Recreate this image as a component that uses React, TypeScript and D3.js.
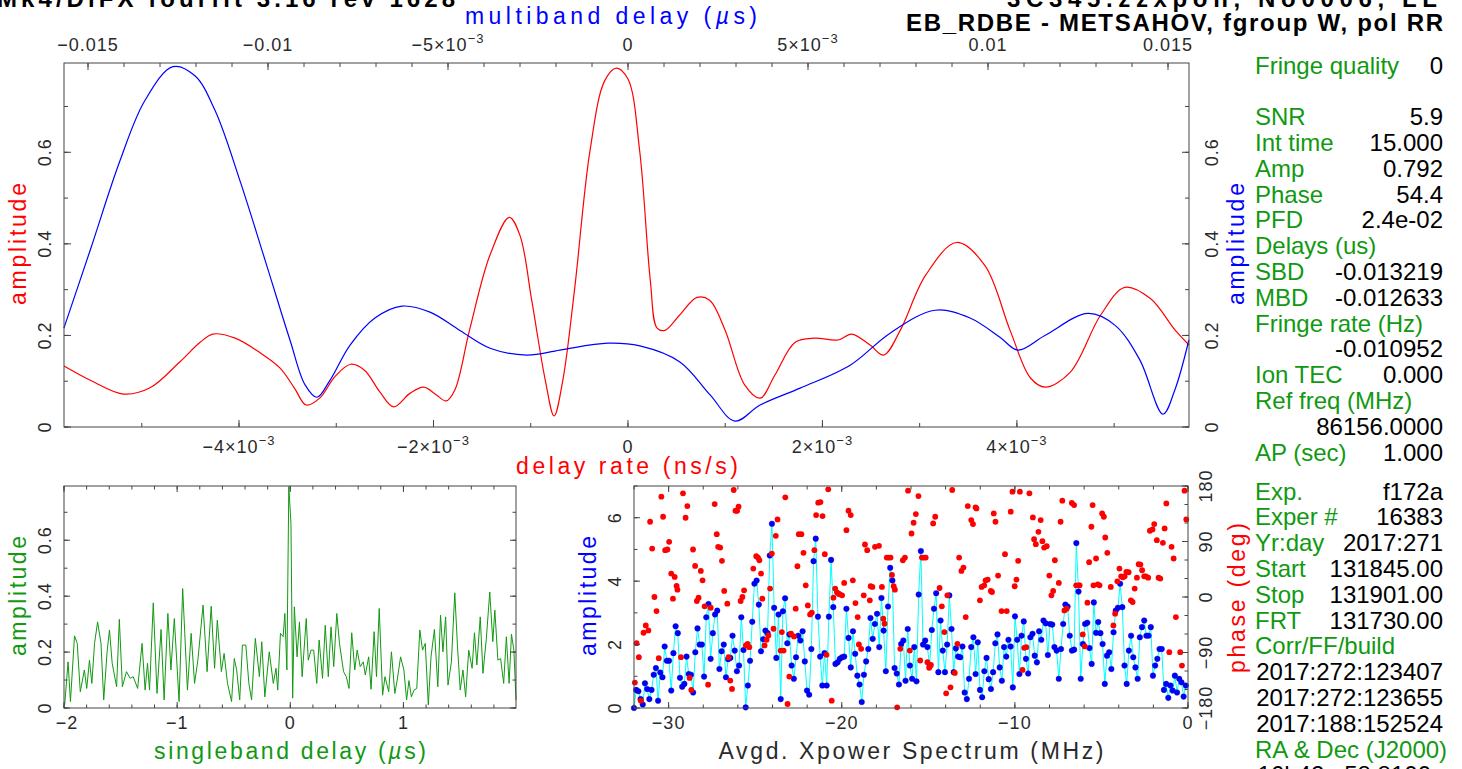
import React from 'react';
import * as d3 from 'd3';

const W = 1462;
const H = 769;

const RED = '#ff0000';
const BLUE = '#0000ff';
const GREEN = '#119911';
const CYAN = '#00ffff';
const AXIS = '#444444';
const LABEL = '#2a2a2a';

// ---- Main panel: delay rate (ns/s) vs amplitude (red) ----
const rateX = [
  -5.80e-3, -5.53e-3, -5.19e-3, -4.92e-3, -4.61e-3, -4.40e-3, -4.27e-3, -4.04e-3, -3.79e-3, -3.58e-3,
  -3.43e-3, -3.31e-3, -3.17e-3, -3.01e-3, -2.85e-3, -2.71e-3, -2.55e-3, -2.41e-3, -2.24e-3, -2.10e-3,
  -1.97e-3, -1.87e-3, -1.78e-3, -1.63e-3, -1.42e-3, -1.22e-3, -1.11e-3, -0.99e-3, -0.85e-3, -0.76e-3,
  -0.67e-3, -0.55e-3, -0.39e-3, -0.24e-3, -0.12e-3, 0.0, 0.12e-3, 0.23e-3, 0.30e-3, 0.38e-3,
  0.53e-3, 0.71e-3, 0.84e-3, 1.00e-3, 1.20e-3, 1.36e-3, 1.51e-3, 1.72e-3, 1.92e-3, 2.16e-3,
  2.30e-3, 2.49e-3, 2.63e-3, 2.80e-3, 3.06e-3, 3.38e-3, 3.67e-3, 3.93e-3, 4.14e-3, 4.29e-3,
  4.55e-3, 4.86e-3, 5.11e-3, 5.37e-3, 5.63e-3, 5.77e-3,
];
const rateAmp = [
  0.133, 0.102, 0.072, 0.085, 0.142, 0.185, 0.203, 0.194, 0.163, 0.129,
  0.085, 0.048, 0.063, 0.111, 0.137, 0.124, 0.076, 0.044, 0.074, 0.087,
  0.070, 0.057, 0.081, 0.211, 0.375, 0.458, 0.418, 0.277, 0.102, 0.024,
  0.102, 0.299, 0.604, 0.756, 0.784, 0.760, 0.604, 0.320, 0.216, 0.211,
  0.244, 0.283, 0.277, 0.211, 0.092, 0.063, 0.113, 0.185, 0.194, 0.190,
  0.203, 0.179, 0.157, 0.211, 0.331, 0.403, 0.353, 0.211, 0.107, 0.087,
  0.120, 0.244, 0.305, 0.281, 0.211, 0.179,
];

// ---- Main panel: multiband delay (us) vs amplitude (blue) ----
const mbdX = [
  -0.01567, -0.01494, -0.01411, -0.01342, -0.01264, -0.01203, -0.01147, -0.01078, -0.01008, -0.00939,
  -0.00897, -0.00864, -0.00828, -0.00772, -0.00703, -0.00628, -0.00550, -0.00467, -0.00383, -0.00281,
  -0.00189, -0.00056, 0.00033, 0.00144, 0.00228, 0.00297, 0.00367, 0.00478, 0.00617, 0.00728,
  0.00853, 0.00950, 0.01033, 0.01083, 0.01158, 0.01278, 0.01353, 0.01422, 0.01486, 0.01519, 0.01558,
];
const mbdAmp = [
  0.216, 0.386, 0.582, 0.713, 0.787, 0.767, 0.691, 0.538, 0.364, 0.190,
  0.092, 0.065, 0.102, 0.179, 0.238, 0.264, 0.251, 0.211, 0.172, 0.157,
  0.168, 0.183, 0.177, 0.142, 0.070, 0.013, 0.048, 0.085, 0.135, 0.205,
  0.255, 0.238, 0.196, 0.168, 0.200, 0.248, 0.222, 0.146, 0.028, 0.081, 0.190,
];

// ---- Singleband delay (us) vs amplitude (green) ----
const sbdPoints: [number, number][] = [
  [-1.994, 0.011], [-1.964, 0.165], [-1.943, 0.023], [-1.907, 0.258], [-1.883, 0.231], [-1.856, 0.058],
  [-1.820, 0.136], [-1.799, 0.070], [-1.775, 0.171], [-1.754, 0.088], [-1.730, 0.231], [-1.703, 0.308],
  [-1.673, 0.231], [-1.649, 0.029], [-1.619, 0.201], [-1.598, 0.279], [-1.574, 0.160], [-1.535, 0.076],
  [-1.511, 0.317], [-1.484, 0.076], [-1.448, 0.130], [-1.415, 0.106], [-1.388, 0.112], [-1.349, 0.070],
  [-1.310, 0.231], [-1.283, 0.064], [-1.262, 0.160], [-1.244, 0.064], [-1.211, 0.376], [-1.178, 0.052],
  [-1.142, 0.281], [-1.115, 0.029], [-1.082, 0.338], [-1.055, 0.136], [-1.025, 0.320], [-0.983, 0.023],
  [-0.951, 0.427], [-0.909, 0.064], [-0.876, 0.267], [-0.846, 0.088], [-0.816, 0.174], [-0.771, 0.368],
  [-0.735, 0.130], [-0.699, 0.364], [-0.669, 0.142], [-0.645, 0.314], [-0.609, 0.130], [-0.585, 0.195],
  [-0.555, 0.088], [-0.519, 0.023], [-0.495, 0.177], [-0.474, 0.136], [-0.447, 0.029], [-0.423, 0.225],
  [-0.393, 0.225], [-0.366, 0.088], [-0.342, 0.029], [-0.309, 0.249], [-0.273, 0.112], [-0.252, 0.237],
  [-0.225, 0.040], [-0.186, 0.201], [-0.150, 0.088], [-0.126, 0.142], [-0.111, 0.064], [-0.087, 0.267],
  [-0.063, 0.255], [-0.048, 0.338], [-0.030, 0.136], [-0.013, 0.792], [0.006, 0.660], [0.021, 0.035],
  [0.036, 0.362], [0.060, 0.183], [0.081, 0.308], [0.105, 0.112], [0.141, 0.320], [0.159, 0.171],
  [0.183, 0.207], [0.207, 0.207], [0.234, 0.088], [0.255, 0.243], [0.285, 0.106], [0.309, 0.296],
  [0.336, 0.112], [0.360, 0.290], [0.384, 0.148], [0.411, 0.338], [0.435, 0.231], [0.471, 0.130],
  [0.495, 0.112], [0.519, 0.070], [0.543, 0.269], [0.570, 0.136], [0.591, 0.207], [0.618, 0.148],
  [0.645, 0.165], [0.663, 0.118], [0.693, 0.183], [0.714, 0.067], [0.741, 0.273], [0.762, 0.112],
  [0.786, 0.356], [0.816, 0.046], [0.837, 0.112], [0.870, 0.058], [0.894, 0.201], [0.924, 0.052],
  [0.945, 0.100], [0.975, 0.183], [1.004, 0.136], [1.028, 0.029], [1.049, 0.098], [1.070, 0.040],
  [1.094, 0.064], [1.118, 0.070], [1.145, 0.279], [1.169, 0.207], [1.193, 0.231], [1.220, 0.011],
  [1.244, 0.183], [1.274, 0.281], [1.304, 0.076], [1.328, 0.332], [1.349, 0.201], [1.373, 0.326],
  [1.394, 0.082], [1.424, 0.165], [1.454, 0.412], [1.478, 0.219], [1.502, 0.064], [1.526, 0.136],
  [1.550, 0.040], [1.577, 0.207], [1.607, 0.142], [1.628, 0.269], [1.649, 0.154], [1.679, 0.326],
  [1.703, 0.124], [1.733, 0.249], [1.763, 0.415], [1.790, 0.237], [1.808, 0.350], [1.835, 0.171],
  [1.859, 0.177], [1.886, 0.088], [1.910, 0.255], [1.934, 0.088], [1.955, 0.264], [1.976, 0.207],
  [1.995, 0.029],
];

// ---- Averaged cross-power spectrum: amplitude per channel (-32..0 MHz) ----
const specAmp = [
  0.00, 0.57, 0.53, 0.28, 0.11, 0.78, 0.60, 0.28, 0.57, 1.05, 1.26, 0.23, 1.12, 0.97, 1.94, 1.49,
  1.49, 0.55, 1.73, 2.58, 2.36, 0.95, 0.67, 0.76, 1.62, 1.07, 1.05, 0.49, 1.76, 2.51, 2.00, 2.00,
  0.99, 2.86, 3.28, 1.55, 2.36, 2.95, 3.07, 1.23, 1.79, 2.00, 0.97, 1.54, 1.58, 2.28, 1.81, 1.16,
  1.34, 2.86, 1.83, 0.02, 0.71, 1.49, 2.72, 3.92, 4.02, 3.26, 1.79, 2.17, 2.44, 2.36, 4.81, 5.81,
  3.16, 1.58, 2.95, 0.28, 3.05, 3.46, 2.04, 2.32, 1.34, 0.92, 1.60, 2.28, 2.13, 2.42, 1.47, 0.55,
  0.42, 1.86, 4.63, 5.34, 2.88, 1.62, 0.71, 1.73, 0.71, 2.88, 4.67, 3.18, 1.39, 1.44, 1.55, 1.60,
  1.62, 3.13, 2.21, 1.28, 2.42, 1.71, 1.02, 0.74, 0.19, 1.05, 1.47, 1.86, 2.84, 2.18, 2.65, 2.97,
  1.92, 3.47, 2.44, 1.16, 3.20, 4.42, 4.02, 1.26, 1.09, 0.74, 2.02, 2.13, 0.86, 2.49, 1.34, 0.92,
  1.92, 0.84, 3.58, 4.95, 2.00, 2.13, 1.92, 1.31, 2.46, 3.13, 3.62, 1.13, 2.76, 1.81, 1.13, 2.00,
  3.55, 2.49, 1.13, 1.88, 1.62, 1.60, 1.94, 0.49, 0.28, 0.92, 1.92, 2.23, 1.07, 2.07, 0.57, 0.34,
  1.16, 1.58, 0.91, 0.60, 1.13, 2.04, 2.32, 1.28, 0.86, 1.92, 1.62, 2.15, 1.94, 0.65, 2.89, 2.15,
  1.07, 2.28, 2.73, 1.55, 1.09, 2.23, 2.34, 1.65, 1.44, 2.42, 2.15, 2.76, 2.67, 1.67, 2.65, 2.63,
  1.92, 1.81, 0.92, 1.86, 2.65, 3.26, 3.20, 2.28, 1.81, 1.84, 5.20, 3.67, 0.92, 2.02, 2.65, 2.69,
  1.89, 1.39, 3.33, 2.37, 2.71, 2.36, 2.02, 0.76, 1.65, 1.76, 1.23, 2.39, 3.07, 3.16, 3.92, 3.18,
  1.34, 0.76, 1.81, 2.28, 1.60, 1.28, 0.92, 2.23, 2.55, 2.76, 2.28, 2.28, 2.55, 1.02, 1.34, 1.55,
  1.86, 1.86, 0.57, 0.76, 0.32, 0.71, 0.55, 1.02, 0.49, 0.92, 0.81, 0.36, 0.71,
];

// ---- Averaged cross-power spectrum: phase dots [MHz, deg] ----
const phaseDots: [number, number][] = [
  [-31.95, -138.8], [-31.85, -74.8], [-31.72, -97.6], [-31.60, -168.1], [-31.45, -58.0], [-31.32, -46.1],
  [-31.17, -54.2], [-31.07, 122.0], [-30.95, 78.6], [-30.82, 0.0], [-30.70, -22.8], [-30.57, -99.2],
  [-30.42, 162.7], [-30.32, 130.1], [-30.20, 75.9], [-30.07, 77.0], [-29.97, 89.5], [-29.85, 38.0],
  [-29.75, -2.7], [-29.65, 32.5], [-29.54, 17.9], [-29.49, 11.9], [-29.29, -97.6], [-29.17, 168.1],
  [-29.02, 128.5], [-28.92, 147.5], [-28.79, -131.2], [-28.69, -150.7], [-28.59, 77.0], [-28.47, 50.4],
  [-28.37, -6.5], [-28.27, -1.1], [-28.14, 42.3], [-28.04, 27.1], [-27.92, -15.2], [-27.72, -142.1],
  [-27.57, -17.4], [-27.34, 150.7], [-27.22, 101.9], [-27.14, 81.3], [-27.02, 80.2], [-26.92, 58.6],
  [-26.79, 9.8], [-26.61, -10.8], [-26.54, -97.6], [-26.44, -135.6], [-26.34, -149.1], [-26.24, 173.5],
  [-26.14, 139.9], [-26.04, 139.9], [-25.96, 146.4], [-25.84, -6.5], [-25.74, 0.0], [-25.64, 10.8],
  [-25.54, -78.6], [-25.44, -75.9], [-25.34, -81.3], [-25.11, 46.1], [-24.94, 66.1], [-24.84, 64.0],
  [-24.76, 59.6], [-24.66, 38.0], [-24.59, -2.7], [-24.46, -78.6], [-24.34, -69.4], [-24.24, -62.4],
  [-24.14, 13.6], [-24.04, 70.5], [-23.94, -51.5], [-23.81, 99.2], [-23.71, 125.8], [-23.53, -86.8],
  [-23.46, -56.9], [-23.36, -86.8], [-23.26, 161.6], [-23.13, -173.5], [-23.03, -129.0], [-22.93, -59.6],
  [-22.76, -64.0], [-22.66, -19.0], [-22.56, 49.9], [-22.48, 101.9], [-22.33, 101.9], [-22.21, 71.6],
  [-22.08, 19.0], [-21.96, -13.6], [-21.83, -28.2], [-21.73, -25.5], [-21.58, 75.9], [-21.48, 132.8],
  [-21.36, 152.9], [-21.23, 154.0], [-21.11, 131.2], [-20.98, 69.4], [-20.88, -93.8], [-20.78, 174.6],
  [-20.58, -168.1], [-20.48, -1.1], [-20.38, 13.6], [-20.28, 7.6], [-20.18, 5.4], [-20.11, 4.3],
  [-19.98, 2.7], [-19.86, 22.8], [-19.73, 108.4], [-19.61, 139.9], [-19.48, 132.8], [-19.36, 27.1],
  [-19.21, -9.8], [-19.08, -32.5], [-19.01, -77.0], [-18.88, -84.0], [-18.73, 2.7], [-18.66, 85.1],
  [-18.53, 75.9], [-18.38, -5.4], [-18.33, 17.4], [-18.23, 16.3], [-18.08, 81.3], [-17.85, 83.0],
  [-17.68, 16.3], [-17.60, -35.2], [-17.53, -43.4], [-17.40, 64.0], [-17.28, 64.0], [-17.18, 64.0],
  [-17.10, 35.8], [-17.00, 17.4], [-16.93, 11.9], [-16.80, -178.9], [-16.62, -84.0], [-16.47, 59.6],
  [-16.35, 64.0], [-16.17, 172.4], [-16.07, -86.8], [-15.97, 103.0], [-15.85, 120.4], [-15.72, 134.5],
  [-15.57, 163.7], [-15.47, -103.0], [-15.37, 64.0], [-15.27, 64.0], [-15.15, 64.0], [-15.05, -105.7],
  [-14.95, -114.9], [-14.85, -110.1], [-14.72, 119.3], [-14.60, 130.1], [-14.35, 14.6], [-14.22, -15.2],
  [-14.07, -56.9], [-13.97, -156.2], [-13.90, 2.7], [-13.72, -146.4], [-13.62, 173.5], [-13.47, -123.1],
  [-13.32, -75.9], [-13.22, 64.0], [-13.09, 42.3], [-12.97, 47.7], [-12.84, -32.5], [-12.72, 147.5],
  [-12.52, 124.7], [-12.42, 118.2], [-12.27, 145.3], [-12.22, 143.7], [-12.02, -5.4], [-11.92, 16.3],
  [-11.77, 19.0], [-11.69, 27.1], [-11.57, 28.2], [-11.39, 9.8], [-11.32, 8.1], [-11.22, 135.6],
  [-11.12, 122.0], [-10.97, 34.7], [-10.77, -22.8], [-10.57, 69.4], [-10.47, -22.8], [-10.24, 138.3],
  [-10.14, 170.8], [-10.01, 17.4], [-9.91, 28.2], [-9.81, 58.6], [-9.71, 170.8], [-9.56, -118.2],
  [-9.46, -82.4], [-9.34, -81.3], [-9.16, 168.1], [-8.96, 129.0], [-8.89, 93.8], [-8.79, 85.7],
  [-8.64, 105.7], [-8.51, 124.7], [-8.41, 90.5], [-8.31, 80.2], [-8.16, 82.4], [-8.01, 34.7],
  [-7.89, 2.7], [-7.79, 9.8], [-7.69, 59.6], [-7.46, 22.8], [-7.36, 122.0], [-7.26, 156.2],
  [-7.14, -21.7], [-7.01, -19.0], [-6.71, 152.4], [-6.58, 149.1], [-6.46, 19.0], [-6.31, 19.0],
  [-6.26, 19.0], [-6.08, -60.7], [-5.96, -80.2], [-5.81, -9.2], [-5.71, 56.4], [-5.58, 113.9],
  [-5.51, 149.1], [-5.46, 19.0], [-5.31, 62.4], [-5.21, 20.6], [-5.11, 19.0], [-4.96, 135.6],
  [-4.86, 130.1], [-4.78, 96.5], [-4.66, 71.6], [-4.46, 16.3], [-4.31, -46.1], [-4.21, -27.1],
  [-4.08, 25.5], [-3.96, 46.1], [-3.86, 33.6], [-3.76, 32.0], [-3.66, 33.6], [-3.56, 40.7],
  [-3.43, 40.1], [-3.30, -5.4], [-3.20, -8.1], [-3.08, 13.6], [-2.95, 31.4], [-2.85, 53.1],
  [-2.75, 52.6], [-2.65, 43.4], [-2.53, 33.6], [-2.43, 33.6], [-2.30, 31.4], [-2.20, 107.4],
  [-2.05, 109.5], [-1.95, 118.2], [-1.80, 92.2], [-1.70, 31.4], [-1.60, 29.8], [-1.45, 87.8],
  [-1.35, 111.2], [-1.25, 151.8], [-1.08, -89.5], [-0.95, 81.3], [-0.83, 62.4], [-0.70, -32.5],
  [-0.45, -89.5], [-0.35, -111.2], [-0.20, 172.4], [-0.10, 125.8],
];

// ---- Tick values ----
const mbdTicks = [-0.015, -0.01, -0.005, 0, 0.005, 0.01, 0.015];
const mbdTickLabels = ['−0.015', '−0.01', '−5|−3', '0', '5|−3', '0.01', '0.015'];
const rateTicks = [-4e-3, -2e-3, 0, 2e-3, 4e-3];
const rateTickLabels = ['−4|−3', '−2|−3', '0', '2|−3', '4|−3'];
const ampTicks = [0, 0.2, 0.4, 0.6];
const ampTickLabels = ['0', '0.2', '0.4', '0.6'];
const sbdTicks = [-2, -1, 0, 1];
const sbdTickLabels = ['−2', '−1', '0', '1'];
const freqTicks = [-30, -20, -10, 0];
const freqTickLabels = ['−30', '−20', '−10', '0'];
const specAmpTicks = [0, 2, 4, 6];
const specAmpTickLabels = ['0', '2', '4', '6'];
const phaseTicks = [-180, -90, 0, 90, 180];
const phaseTickLabels = ['−180', '−90', '0', '90', '180'];

// ---- Summary text ----
const block1Labels = ['Fringe quality', '', 'SNR', 'Int time', 'Amp', 'Phase', 'PFD', 'Delays (us)', 'SBD', 'MBD', 'Fringe rate (Hz)', '', 'Ion TEC', 'Ref freq (MHz)', '', 'AP (sec)'];
const block1Values = ['0', '', '5.9', '15.000', '0.792', '54.4', '2.4e-02', '', '-0.013219', '-0.012633', '', '-0.010952', '0.000', '', '86156.0000', '1.000'];
const block2Labels = ['Exp.', 'Exper #', 'Yr:day', 'Start', 'Stop', 'FRT', 'Corr/FF/build', '', '', '', 'RA & Dec (J2000)', ''];
const block2Values = ['f172a', '16383', '2017:271', '131845.00', '131901.00', '131730.00', '', '2017:272:123407', '2017:272:123655', '2017:188:152524', '', '16h42m58.8100s'];

const TICKFONT = '"Liberation Sans", Arial, sans-serif';

function TickLabel({ x, y, label, rotate = false, size = 18 }: { x: number; y: number; label: string; rotate?: boolean; size?: number }) {
  const parts = label.split('|');
  const content = parts.length === 2 ? (
    <>
      {parts[0]}×10<tspan dy={-8} fontSize={13}>{parts[1]}</tspan>
    </>
  ) : label;
  const tr = rotate ? `translate(${x},${y}) rotate(-90)` : `translate(${x},${y})`;
  return (
    <text transform={tr} textAnchor="middle" dy={rotate ? '0.36em' : 0} fontFamily={TICKFONT} fontSize={size} fill={LABEL} letterSpacing={1}>
      {content}
    </text>
  );
}

function Ticks({ scale, values, horizontal, at, dir, len }: { scale: (v: number) => number; values: number[]; horizontal: boolean; at: number; dir: number; len: number }) {
  return (
    <g stroke={AXIS} strokeWidth={1}>
      {values.map((v, i) => {
        const p = scale(v);
        return horizontal
          ? <line key={i} x1={p} x2={p} y1={at} y2={at + dir * len} />
          : <line key={i} y1={p} y2={p} x1={at} x2={at + dir * len} />;
      })}
    </g>
  );
}

function range(a: number, b: number, s: number) {
  return d3.range(Math.round(a / s), Math.round(b / s) + 1).map((k) => +(k * s).toFixed(6));
}

function AxisTitle({ x, y, text, fill, len, rotate = false, children }: any) {
  const tr = rotate ? `translate(${x},${y}) rotate(-90)` : `translate(${x},${y})`;
  return (
    <text transform={tr} textAnchor="middle" dy={rotate ? '0.36em' : 0} fontFamily={TICKFONT} fontSize={23} fill={fill} textLength={len} lengthAdjust="spacing">
      {children ?? text}
    </text>
  );
}

export default function App() {
  // main panel scales
  const mL = 64, mR = 1189, mT = 63, mB = 427;
  const xRate = d3.scaleLinear().domain([-5.80e-3, 5.77e-3]).range([mL, mR]);
  const xMbd = d3.scaleLinear().domain([-0.015667, 0.015583]).range([mL, mR]);
  const yMain = d3.scaleLinear().domain([0, 0.795]).range([mB, mT]);

  const rateLine = d3.line<number>().x((_, i) => xRate(rateX[i])).y((d) => yMain(d)).curve(d3.curveCatmullRom.alpha(0.5));
  const mbdLine = d3.line<number>().x((_, i) => xMbd(mbdX[i])).y((d) => yMain(d)).curve(d3.curveCatmullRom.alpha(0.5));

  // singleband
  const sL = 64, sR = 516, sT = 486, sB = 708;
  const xSbd = d3.scaleLinear().domain([-2, 1.995]).range([sL, sR]);
  const ySbd = d3.scaleLinear().domain([0, 0.794]).range([sB, sT]);
  const sbdLine = d3.line<[number, number]>().x((d) => xSbd(d[0])).y((d) => ySbd(d[1]));

  // spectrum
  const pL = 634, pR = 1188, pT = 486, pB = 708;
  const xFreq = d3.scaleLinear().domain([-32, 0]).range([pL, pR]);
  const yAmp = d3.scaleLinear().domain([0, 7]).range([pB, pT]);
  const yPh = d3.scaleLinear().domain([-180, 180]).range([pB, pT]);
  const N = specAmp.length;
  const chanFreq = specAmp.map((_, i) => -32 + (i * 32) / N);
  const specLine = d3.line<number>().x((_, i) => xFreq(chanFreq[i])).y((d) => yAmp(d));

  const ML = 7, mi = 4;

  return (
    <svg width={W} height={H} viewBox={`0 0 ${W} ${H}`} style={{ position: 'fixed', left: 0, top: 0, background: '#fff' }}>
      <rect x={0} y={0} width={W} height={H} fill="#fff" />

      {/* Titles (cut at top) */}
      <text x={-3} y={7} fontFamily={TICKFONT} fontWeight="bold" fontSize={24} fill="#000" textLength={458} lengthAdjust="spacing">Mk4/DiFX fourfit 3.16 rev 1628</text>
      <text x={1007} y={7} fontFamily={TICKFONT} fontWeight="bold" fontSize={24} fill="#000" textLength={430} lengthAdjust="spacing">3C345.zzxpon, No0006, LL</text>
      <text x={1443} y={31} textAnchor="end" fontFamily={TICKFONT} fontWeight="bold" fontSize={24} fill="#000" textLength={537} lengthAdjust="spacing">EB_RDBE - METSAHOV, fgroup W, pol RR</text>

      {/* ===== Main panel ===== */}
      <path d={rateLine(rateAmp) ?? ''} fill="none" stroke={RED} strokeWidth={1.2} />
      <path d={mbdLine(mbdAmp) ?? ''} fill="none" stroke={BLUE} strokeWidth={1.2} />
      <rect x={mL} y={mT} width={mR - mL} height={mB - mT} fill="none" stroke={AXIS} strokeWidth={1} />
      <Ticks scale={xMbd} values={range(-0.015, 0.015, 0.001)} horizontal at={mT} dir={1} len={mi} />
      <Ticks scale={xMbd} values={mbdTicks} horizontal at={mT} dir={1} len={ML} />
      <Ticks scale={xRate} values={range(-5e-3, 5e-3, 1e-3)} horizontal at={mB} dir={-1} len={mi} />
      <Ticks scale={xRate} values={rateTicks} horizontal at={mB} dir={-1} len={ML} />
      <Ticks scale={yMain} values={range(0, 0.7, 0.1)} horizontal={false} at={mL} dir={1} len={mi} />
      <Ticks scale={yMain} values={ampTicks} horizontal={false} at={mL} dir={1} len={ML} />
      <Ticks scale={yMain} values={range(0, 0.7, 0.1)} horizontal={false} at={mR} dir={-1} len={mi} />
      <Ticks scale={yMain} values={ampTicks} horizontal={false} at={mR} dir={-1} len={ML} />
      {mbdTicks.map((v, i) => <TickLabel key={'mt' + i} x={xMbd(v)} y={51} label={mbdTickLabels[i]} />)}
      {rateTicks.map((v, i) => <TickLabel key={'rt' + i} x={xRate(v)} y={453} label={rateTickLabels[i]} />)}
      {ampTicks.map((v, i) => <TickLabel key={'al' + i} x={45} y={yMain(v)} label={ampTickLabels[i]} rotate />)}
      {ampTicks.map((v, i) => <TickLabel key={'ar' + i} x={1212} y={yMain(v)} label={ampTickLabels[i]} rotate />)}
      <AxisTitle x={611} y={24} fill={BLUE} len={292}>multiband delay (<tspan fontStyle="italic">µ</tspan>s)</AxisTitle>
      <AxisTitle x={627} y={474} fill={RED} len={222} text="delay rate (ns/s)" />
      <AxisTitle x={18} y={244} fill={RED} len={122} rotate text="amplitude" />
      <AxisTitle x={1236} y={244} fill={BLUE} len={122} rotate text="amplitude" />

      {/* ===== Singleband delay ===== */}
      <path d={sbdLine(sbdPoints) ?? ''} fill="none" stroke={GREEN} strokeWidth={1} />
      <rect x={sL} y={sT} width={sR - sL} height={sB - sT} fill="none" stroke={AXIS} strokeWidth={1} />
      <Ticks scale={xSbd} values={range(-2, 1.8, 0.2)} horizontal at={sB} dir={-1} len={3.5} />
      <Ticks scale={xSbd} values={sbdTicks} horizontal at={sB} dir={-1} len={6} />
      <Ticks scale={xSbd} values={range(-2, 1.8, 0.2)} horizontal at={sT} dir={1} len={3.5} />
      <Ticks scale={xSbd} values={sbdTicks} horizontal at={sT} dir={1} len={6} />
      <Ticks scale={ySbd} values={range(0, 0.7, 0.1)} horizontal={false} at={sL} dir={1} len={3.5} />
      <Ticks scale={ySbd} values={ampTicks} horizontal={false} at={sL} dir={1} len={6} />
      <Ticks scale={ySbd} values={range(0, 0.7, 0.1)} horizontal={false} at={sR} dir={-1} len={3.5} />
      <Ticks scale={ySbd} values={ampTicks} horizontal={false} at={sR} dir={-1} len={6} />
      {sbdTicks.map((v, i) => <TickLabel key={'sx' + i} x={xSbd(v) + (i === 0 ? 3 : 0)} y={729} label={sbdTickLabels[i]} />)}
      {ampTicks.map((v, i) => <TickLabel key={'sy' + i} x={45} y={ySbd(v)} label={ampTickLabels[i]} rotate />)}
      <AxisTitle x={290} y={759} fill={GREEN} len={272}>singleband delay (<tspan fontStyle="italic">µ</tspan>s)</AxisTitle>
      <AxisTitle x={18} y={596} fill={GREEN} len={120} rotate text="amplitude" />

      {/* ===== Spectrum ===== */}
      <path d={specLine(specAmp) ?? ''} fill="none" stroke={CYAN} strokeWidth={1} />
      {specAmp.map((a, i) => <circle key={'b' + i} cx={xFreq(chanFreq[i])} cy={yAmp(a)} r={2.8} fill={BLUE} stroke="#0000b0" strokeWidth={0.4} />)}
      {phaseDots.map((d, i) => <circle key={'p' + i} cx={xFreq(d[0])} cy={yPh(d[1])} r={2.9} fill={RED} />)}
      <rect x={pL} y={pT} width={pR - pL} height={pB - pT} fill="none" stroke={AXIS} strokeWidth={1} />
      <Ticks scale={xFreq} values={range(-32, 0, 2)} horizontal at={pB} dir={-1} len={3.5} />
      <Ticks scale={xFreq} values={freqTicks} horizontal at={pB} dir={-1} len={6} />
      <Ticks scale={xFreq} values={range(-32, 0, 2)} horizontal at={pT} dir={1} len={3.5} />
      <Ticks scale={xFreq} values={freqTicks} horizontal at={pT} dir={1} len={6} />
      <Ticks scale={yAmp} values={range(0, 7, 1)} horizontal={false} at={pL} dir={1} len={3.5} />
      <Ticks scale={yAmp} values={specAmpTicks} horizontal={false} at={pL} dir={1} len={6} />
      <Ticks scale={yPh} values={range(-180, 180, 30)} horizontal={false} at={pR} dir={-1} len={3.5} />
      <Ticks scale={yPh} values={phaseTicks} horizontal={false} at={pR} dir={-1} len={6} />
      {freqTicks.map((v, i) => <TickLabel key={'fx' + i} x={xFreq(v)} y={729} label={freqTickLabels[i]} />)}
      {specAmpTicks.map((v, i) => <TickLabel key={'fy' + i} x={615} y={yAmp(v)} label={specAmpTickLabels[i]} rotate />)}
      {phaseTicks.map((v, i) => <TickLabel key={'ph' + i} x={1206} y={yPh(v)} label={phaseTickLabels[i]} rotate />)}
      <AxisTitle x={911} y={759} fill={LABEL} len={385} text="Avgd. Xpower Spectrum (MHz)" />
      <AxisTitle x={588} y={596} fill={BLUE} len={120} rotate text="amplitude" />
      <AxisTitle x={1237} y={598} fill={RED} len={150} rotate text="phase (deg)" />

      {/* ===== Summary text ===== */}
      <g fontFamily={TICKFONT} fontSize={24}>
        {block1Labels.map((t, i) => t ? <text key={'l1' + i} x={1255} y={65 + i * 25.8 + 8.5} fill={GREEN}>{t}</text> : null)}
        {block1Values.map((t, i) => t ? <text key={'v1' + i} x={1443} y={65 + i * 25.8 + 8.5} fill="#000" textAnchor="end">{t}</text> : null)}
        {block2Labels.map((t, i) => t ? <text key={'l2' + i} x={1255} y={491 + i * 25.8 + 8.5} fill={GREEN}>{t}</text> : null)}
        {block2Values.map((t, i) => t ? <text key={'v2' + i} x={1443} y={491 + i * 25.8 + 8.5} fill="#000" textAnchor="end">{t}</text> : null)}
      </g>
    </svg>
  );
}
